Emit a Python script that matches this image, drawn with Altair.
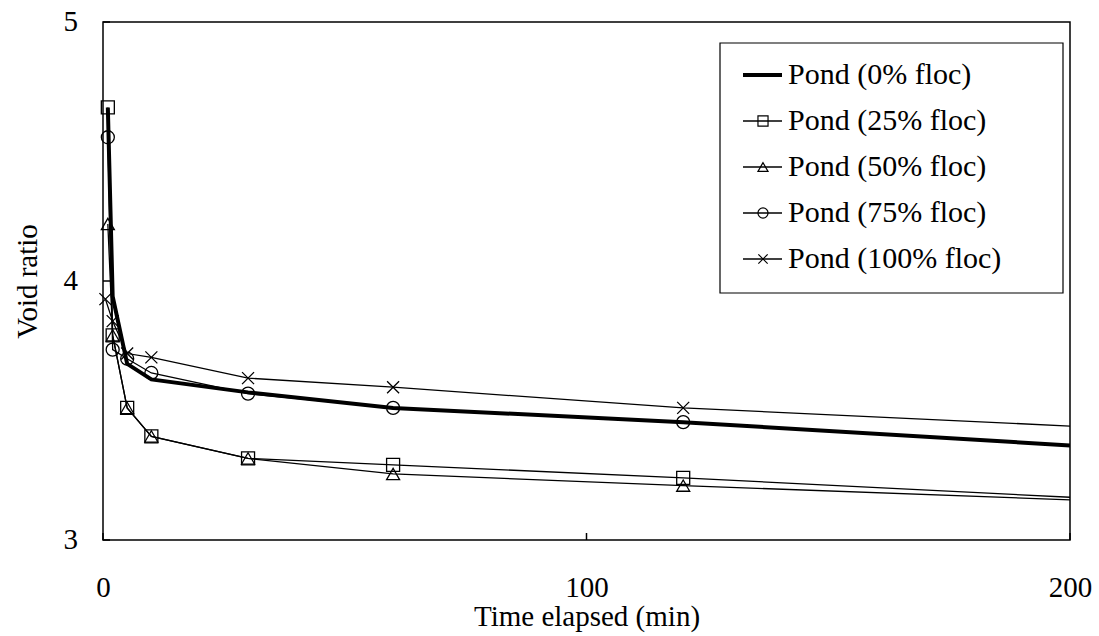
import altair as alt
import pandas as pd

# Settling tests: void ratio against elapsed time for pond samples
series_names = [
    "Pond (0% floc)",
    "Pond (25% floc)",
    "Pond (50% floc)",
    "Pond (75% floc)",
    "Pond (100% floc)",
]
time_min = [1, 2, 5, 10, 30, 60, 120, 200]
time_min_100 = [0.5, 2, 5, 10, 30, 60, 120, 200]

void_0 = [4.67, 3.94, 3.68, 3.62, 3.57, 3.51, 3.455, 3.365]
void_25 = [4.67, 3.79, 3.51, 3.40, 3.315, 3.29, 3.24, 3.165]
void_50 = [4.22, 3.79, 3.51, 3.40, 3.315, 3.255, 3.21, 3.155]
void_75 = [4.555, 3.735, 3.70, 3.645, 3.565, 3.51, 3.455, 3.365]
void_100 = [3.93, 3.845, 3.72, 3.705, 3.625, 3.59, 3.51, 3.44]

x_ticks = [0, 100, 200]
y_ticks = [3, 4, 5]

FONT = "Liberation Serif"
FS = 29
W, H = 967, 518

rows = []
for name, times, vals in zip(
    series_names,
    [time_min, time_min, time_min, time_min, time_min_100],
    [void_0, void_25, void_50, void_75, void_100],
):
    for t, v in zip(times, vals):
        rows.append({"series": name, "time": t, "void": v})
df = pd.DataFrame(rows)

x_enc = alt.X(
    "time:Q",
    scale=alt.Scale(domain=[0, 200], nice=False, zero=False),
    axis=alt.Axis(
        values=x_ticks, format="d", grid=False, ticks=False, domain=False,
        labelOverlap=False, labelFlush=False,
        labelFont=FONT, labelFontSize=FS, labelColor="black",
        labelBaseline="middle", labelPadding=47,
        title="Time elapsed (min)", titleFont=FONT, titleFontSize=FS,
        titleFontWeight="normal", titleColor="black",
        titleY=76, titleBaseline="middle",
    ),
)
y_enc = alt.Y(
    "void:Q",
    scale=alt.Scale(domain=[3, 5], nice=False, zero=False),
    axis=alt.Axis(
        values=y_ticks, grid=False, ticks=False, domain=False, labels=False,
        title="Void ratio", titleFont=FONT, titleFontSize=FS,
        titleFontWeight="normal", titleColor="black",
        titleX=-76, titleY=H / 2, titleAngle=270,
        titleAlign="center", titleBaseline="middle",
    ),
)

base = alt.Chart(df)

thick = base.transform_filter(alt.datum.series == series_names[0]).mark_line(
    color="black", strokeWidth=4, clip=True
).encode(x=x_enc, y=y_enc)

thin = base.transform_filter(alt.datum.series != series_names[0]).mark_line(
    color="black", strokeWidth=1.3, clip=True
).encode(x=x_enc, y=y_enc, detail="series:N")

cross_path = "M-1,-1L1,1M-1,1L1,-1"
marker_shapes = {
    series_names[1]: ("square", 169),
    series_names[2]: ("triangle-up", 169),
    series_names[3]: ("circle", 169),
    series_names[4]: (cross_path, 144),
}

layers = [thin, thick]
for name, (shape, size) in marker_shapes.items():
    layers.append(
        base.transform_filter(
            (alt.datum.series == name) & (alt.datum.time < 200)
        ).mark_point(
            shape=shape, size=size, filled=False, color="black",
            strokeWidth=1.3, opacity=1
        ).encode(x=x_enc, y=y_enc)
    )

# y tick labels and inward tick marks
tick_df = pd.DataFrame({"void": y_ticks})
y_tick_labels = alt.Chart(tick_df).mark_text(
    align="right", baseline="middle", font=FONT, fontSize=FS, color="black"
).encode(y=y_enc, x=alt.value(-25), text=alt.Text("void:Q", format="d"))
y_tick_marks = alt.Chart(tick_df).mark_rule(
    color="black", strokeWidth=1.5
).encode(y=y_enc, x=alt.value(0), x2=alt.value(7))
x_tick_marks = alt.Chart(pd.DataFrame({"time": x_ticks})).mark_rule(
    color="black", strokeWidth=1.5
).encode(x=x_enc, y=alt.value(H), y2=alt.value(H - 7))
layers += [y_tick_labels, y_tick_marks, x_tick_marks]

# legend box
leg_left, leg_right, leg_top, leg_bottom = 617, 960, 21, 271
row_y = [53, 99, 145, 191, 237]
sym_x0, sym_x1, sym_mid, text_x = 640, 679, 660, 685

one = pd.DataFrame({"k": [0]})
layers.append(
    alt.Chart(one).mark_rect(fill="white", stroke="black", strokeWidth=1.2).encode(
        x=alt.value(leg_left), x2=alt.value(leg_right),
        y=alt.value(leg_top), y2=alt.value(leg_bottom),
    )
)
for i, name in enumerate(series_names):
    ry = row_y[i]
    layers.append(
        alt.Chart(one).mark_rule(
            color="black", strokeWidth=4 if i == 0 else 1.3
        ).encode(x=alt.value(sym_x0), x2=alt.value(sym_x1), y=alt.value(ry))
    )
    if name in marker_shapes:
        shape, size = marker_shapes[name]
        layers.append(
            alt.Chart(one).mark_point(
                shape=shape, size=size * 0.6, filled=False, color="black",
                strokeWidth=1.2, opacity=1
            ).encode(x=alt.value(sym_mid), y=alt.value(ry))
        )
    layers.append(
        alt.Chart(pd.DataFrame({"label": [name]})).mark_text(
            align="left", baseline="middle", font=FONT, fontSize=30, color="black"
        ).encode(text="label:N", x=alt.value(text_x), y=alt.value(ry))
    )

chart = alt.layer(*layers).properties(
    width=W,
    height=H,
    autosize=alt.AutoSizeParams(type="none"),
    padding={"left": 103, "top": 22, "right": 29, "bottom": 96},
    background="white",
).configure(font=FONT).configure_view(stroke="black", strokeWidth=1.5)

chart.save("out.html", embed_options={"renderer": "svg", "actions": False})
